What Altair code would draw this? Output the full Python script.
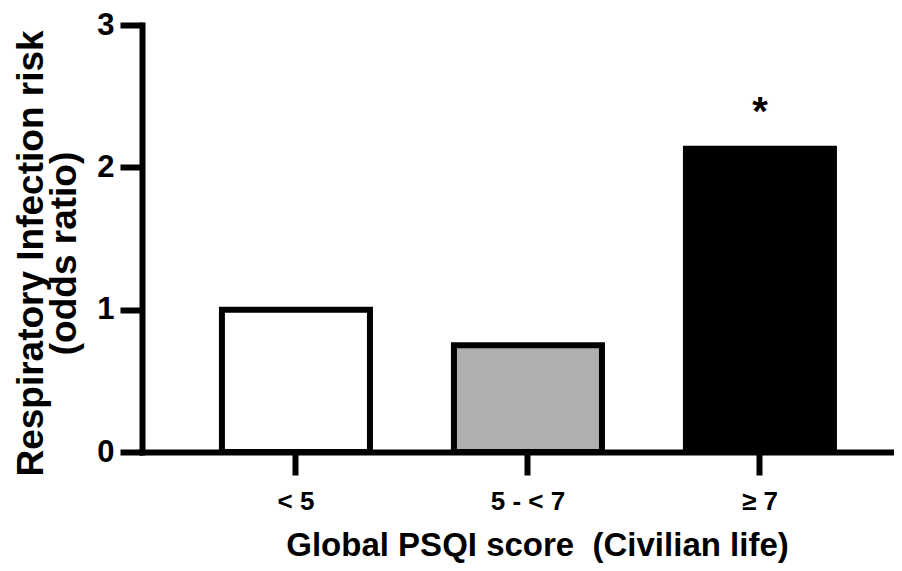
import altair as alt
import pandas as pd

categories = ["< 5", "5 - < 7", "≥ 7"]
odds_ratio = [1.0, 0.75, 2.13]
significance = ["", "", "*"]
bar_fills = ["#ffffff", "#afafaf", "#000000"]
y_ticks = [0, 1, 2, 3]

df = pd.DataFrame({"group": categories, "odds": odds_ratio, "sig": significance, "fill": bar_fills})

FONT = "Liberation Sans"

x_scale = alt.Scale(paddingInner=0.362, paddingOuter=0.3017, align=0.571)

x_enc = alt.X(
    "group:N",
    sort=categories,
    scale=x_scale,
    axis=alt.Axis(
        title="Global PSQI score\u00a0 (Civilian life)",
        labelAngle=0,
        labelFont=FONT, labelFontSize=26, labelFontWeight="bold", labelColor="black",
        labelPadding=13,
        tickSize=23, tickWidth=6, tickColor="black", bandPosition=0.5,
        domainWidth=6, domainColor="black", domainCap="square",
        titleFont=FONT, titleFontSize=33, titleFontWeight="bold", titleColor="black",
        titleX=395, titleY=103, titleBaseline="alphabetic", titleAlign="center",
        zindex=1,
    ),
)

y_enc = alt.Y(
    "odds:Q",
    scale=alt.Scale(domain=[0, 3], nice=False),
    axis=alt.Axis(
        values=y_ticks, format="d", grid=False,
        title=["Respiratory Infection risk", "(odds ratio)"],
        labelFont=FONT, labelFontSize=31, labelFontWeight="bold", labelColor="black",
        labelPadding=6,
        tickSize=22, tickWidth=6, tickColor="black",
        domainWidth=6, domainColor="black", domainCap="square",
        titleFont=FONT, titleFontSize=37, titleFontWeight="bold", titleColor="black",
        titleAngle=270, titleX=-100, titleY=228, titleBaseline="alphabetic",
        titleAlign="center", titleLineHeight=33,
        zindex=1,
    ),
)

bars = alt.Chart(df).mark_bar(stroke="black", strokeWidth=6).encode(
    x=x_enc,
    y=y_enc,
    fill=alt.Fill("fill:N", scale=None),
)

stars = alt.Chart(df).mark_text(
    font=FONT, fontSize=40, fontWeight="bold", baseline="alphabetic", dy=-24, color="black"
).encode(
    x=alt.X("group:N", sort=categories, scale=x_scale),
    y=alt.Y("odds:Q"),
    text="sig:N",
)

chart = alt.layer(bars, stars).properties(
    width=752, height=427,
    autosize=alt.AutoSizeParams(type="none"),
    padding={"left": 134, "top": 17, "right": 0, "bottom": 111},
).configure_view(stroke=None)

chart.save("out.html", embed_options={"renderer": "svg", "actions": False})
